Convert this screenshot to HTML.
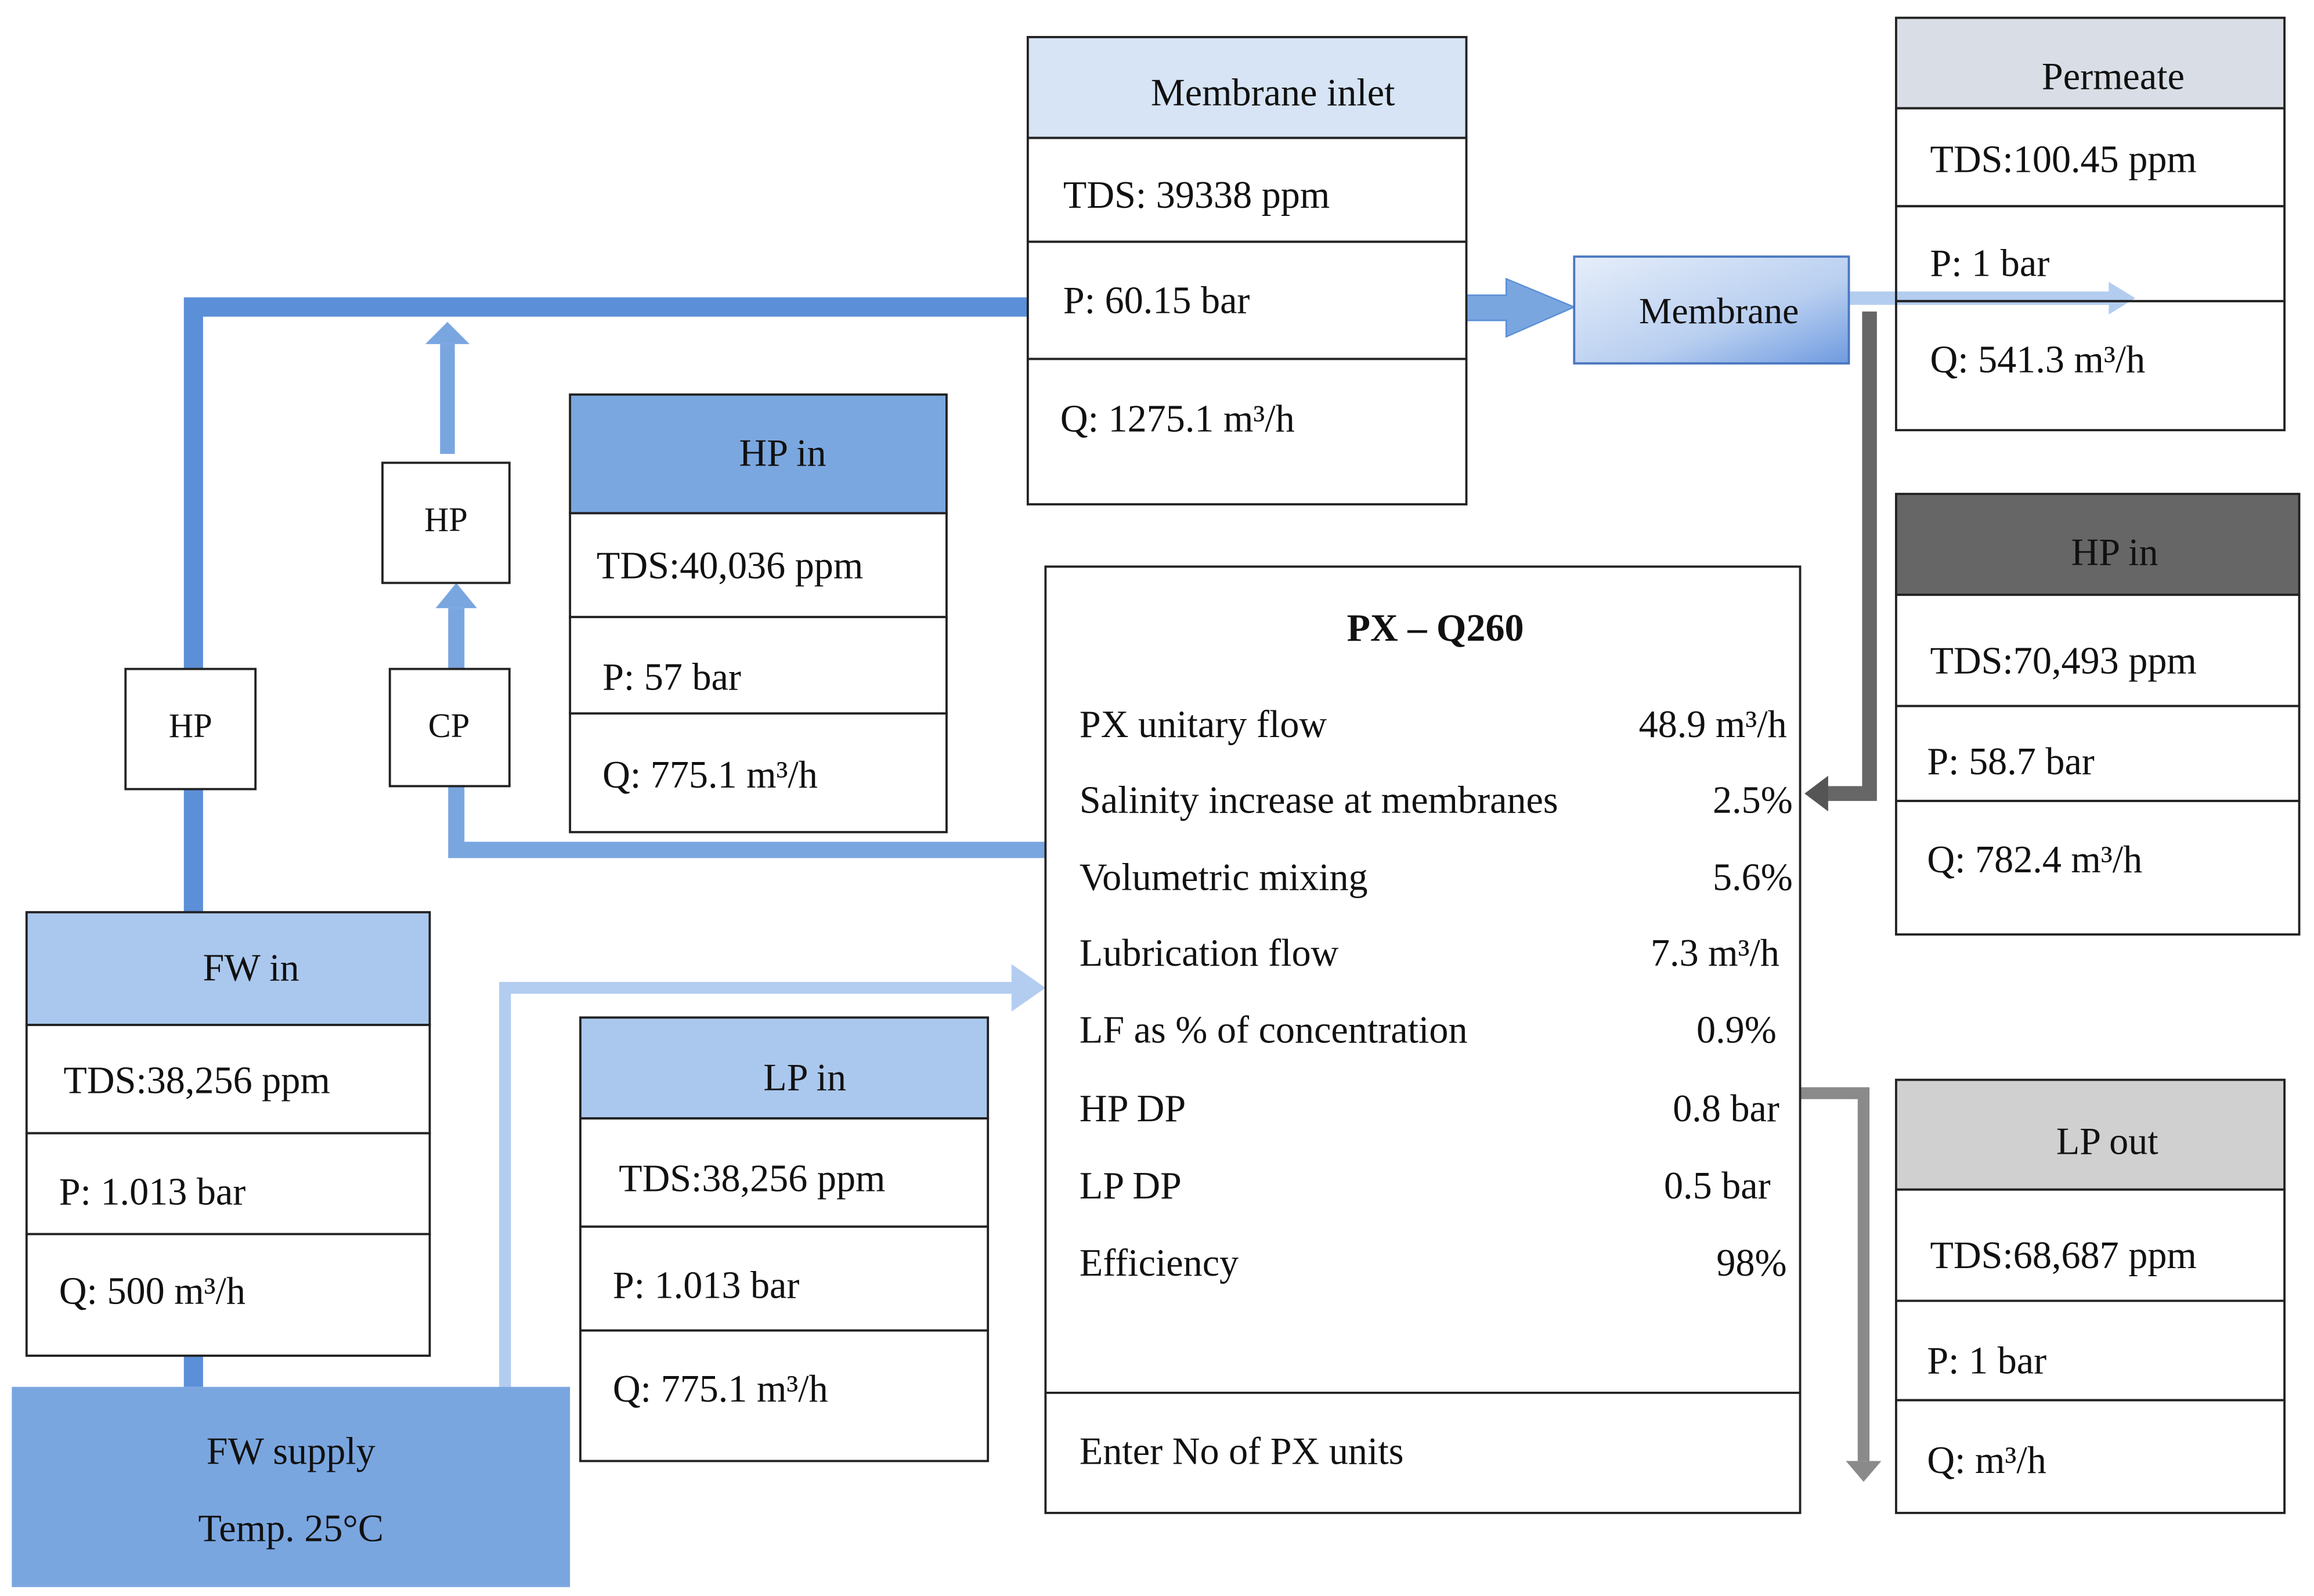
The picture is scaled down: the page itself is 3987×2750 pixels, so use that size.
<!DOCTYPE html>
<html><head><meta charset="utf-8"><style>
html,body{margin:0;padding:0;background:#fff;}
svg{display:block;}
text{font-family:"Liberation Serif",serif;fill:#111;}
</style></head><body>
<svg width="3987" height="2750" viewBox="0 0 1567 1076" preserveAspectRatio="none" xmlns="http://www.w3.org/2000/svg">
<defs>
<linearGradient id="mg" x1="0" y1="0" x2="1" y2="1">
<stop offset="0" stop-color="#e6eefa"/><stop offset="0.6" stop-color="#b9cff0"/><stop offset="1" stop-color="#6f9be0"/>
</linearGradient>
</defs>
<g fill="none">
<!-- main blue pipe -->
<path d="M131 935 V207 H700" stroke="#5b8fd8" stroke-width="13"/>
<!-- CP to HP pipe and PX to CP -->
<path d="M708 573 H309 V410" stroke="#7aa6e0" stroke-width="11"/>
<path d="M303 306 V232" stroke="#7aa6e0" stroke-width="10"/>
<!-- LP pipe -->
<path d="M342 935 V666 H690" stroke="#b3cdf0" stroke-width="8"/>
<!-- permeate -->
<path d="M1252 201 H1430" stroke="#b3cdf0" stroke-width="9"/>
<!-- grey concentrate -->
<path d="M1266 210 V535 H1236" stroke="#666" stroke-width="10"/>
<!-- LP out grey -->
<path d="M1219 737 H1262 V985" stroke="#8a8a8a" stroke-width="8"/>
</g>
<!-- arrowheads -->
<polygon points="288,232 303,217 318,232" fill="#7aa6e0"/>
<polygon points="295,410 309,393 323,410" fill="#7aa6e0"/>
<polygon points="685,650 708,666 685,682" fill="#b3cdf0"/>
<polygon points="1428,190 1446,201 1428,212" fill="#b3cdf0"/>
<polygon points="1238,523 1222,535 1238,547" fill="#555"/>
<polygon points="1250,985 1262,999 1274,985" fill="#8a8a8a"/>
<!-- block arrow to membrane -->
<polygon points="993,199 1020,199 1020,188 1066,207 1020,227 1020,216 993,216" fill="#7aa6e0" stroke="#5b8fd8" stroke-width="1"/>
<!-- Membrane -->
<rect x="1066" y="173" width="186" height="72" fill="url(#mg)" stroke="#4a78c0" stroke-width="1.5"/>
<text x="1164" y="218" font-size="25" text-anchor="middle">Membrane</text>

<g stroke="#222" stroke-width="1.5">
<!-- Membrane inlet -->
<rect x="696" y="25" width="297" height="68" fill="#d6e4f5"/>
<rect x="696" y="93" width="297" height="70" fill="#fff"/>
<rect x="696" y="163" width="297" height="79" fill="#fff"/>
<rect x="696" y="242" width="297" height="98" fill="#fff"/>
<!-- Permeate -->
<rect x="1284" y="12" width="263" height="61" fill="#d9dee6"/>
<rect x="1284" y="73" width="263" height="66" fill="#fff"/>
<rect x="1284" y="139" width="263" height="64" fill="none"/>
<rect x="1284" y="203" width="263" height="87" fill="none"/>
<!-- HP in right -->
<rect x="1284" y="333" width="273" height="68" fill="#666"/>
<rect x="1284" y="401" width="273" height="75" fill="#fff"/>
<rect x="1284" y="476" width="273" height="64" fill="#fff"/>
<rect x="1284" y="540" width="273" height="90" fill="#fff"/>
<!-- LP out -->
<rect x="1284" y="728" width="263" height="74" fill="#d0d0d0"/>
<rect x="1284" y="802" width="263" height="75" fill="#fff"/>
<rect x="1284" y="877" width="263" height="67" fill="#fff"/>
<rect x="1284" y="944" width="263" height="76" fill="#fff"/>
<!-- PX -->
<rect x="708" y="382" width="511" height="638" fill="#fff"/>
<line x1="708" y1="939" x2="1219" y2="939"/>
<!-- HP in middle -->
<rect x="386" y="266" width="255" height="80" fill="#7ba7e0"/>
<rect x="386" y="346" width="255" height="70" fill="#fff"/>
<rect x="386" y="416" width="255" height="65" fill="#fff"/>
<rect x="386" y="481" width="255" height="80" fill="#fff"/>
<!-- LP in -->
<rect x="393" y="686" width="276" height="68" fill="#aac8ee"/>
<rect x="393" y="754" width="276" height="73" fill="#fff"/>
<rect x="393" y="827" width="276" height="70" fill="#fff"/>
<rect x="393" y="897" width="276" height="88" fill="#fff"/>
<!-- FW in -->
<rect x="18" y="615" width="273" height="76" fill="#aac8ee"/>
<rect x="18" y="691" width="273" height="73" fill="#fff"/>
<rect x="18" y="764" width="273" height="68" fill="#fff"/>
<rect x="18" y="832" width="273" height="82" fill="#fff"/>
<!-- small boxes -->
<rect x="259" y="312" width="86" height="81" fill="#fff"/>
<rect x="85" y="451" width="88" height="81" fill="#fff"/>
<rect x="264" y="451" width="81" height="79" fill="#fff"/>
</g>
<rect x="8" y="935" width="378" height="135" fill="#7aa6e0"/>

<g font-size="26">
<text x="862" y="71" text-anchor="middle">Membrane inlet</text>
<text x="720" y="140">TDS: 39338 ppm</text>
<text x="720" y="211">P: 60.15 bar</text>
<text x="718" y="291">Q: 1275.1 m³/h</text>

<text x="1431" y="60" text-anchor="middle">Permeate</text>
<text x="1307" y="116">TDS:100.45 ppm</text>
<text x="1307" y="186">P: 1 bar</text>
<text x="1307" y="251">Q: 541.3 m³/h</text>

<text x="1432" y="381" text-anchor="middle">HP in</text>
<text x="1307" y="454">TDS:70,493 ppm</text>
<text x="1305" y="522">P: 58.7 bar</text>
<text x="1305" y="588">Q: 782.4 m³/h</text>

<text x="1427" y="778" text-anchor="middle">LP out</text>
<text x="1307" y="855">TDS:68,687 ppm</text>
<text x="1305" y="926">P: 1 bar</text>
<text x="1305" y="993">Q: m³/h</text>

<text x="530" y="314" text-anchor="middle">HP in</text>
<text x="404" y="390">TDS:40,036 ppm</text>
<text x="408" y="465">P: 57 bar</text>
<text x="408" y="531">Q: 775.1 m³/h</text>

<text x="545" y="735" text-anchor="middle">LP in</text>
<text x="419" y="803">TDS:38,256 ppm</text>
<text x="415" y="875">P: 1.013 bar</text>
<text x="415" y="945">Q: 775.1 m³/h</text>

<text x="170" y="661" text-anchor="middle">FW in</text>
<text x="43" y="737">TDS:38,256 ppm</text>
<text x="40" y="812">P: 1.013 bar</text>
<text x="40" y="879">Q: 500 m³/h</text>

<text x="197" y="987" text-anchor="middle">FW supply</text>
<text x="197" y="1039" text-anchor="middle">Temp. 25°C</text>

<text x="302" y="358" text-anchor="middle" font-size="23">HP</text>
<text x="129" y="497" text-anchor="middle" font-size="23">HP</text>
<text x="304" y="497" text-anchor="middle" font-size="23">CP</text>

<text x="972" y="432" text-anchor="middle" font-weight="bold">PX – Q260</text>
<text x="731" y="497">PX unitary flow</text><text x="1210" y="497" text-anchor="end">48.9 m³/h</text>
<text x="731" y="548">Salinity increase at membranes</text><text x="1214" y="548" text-anchor="end">2.5%</text>
<text x="731" y="600">Volumetric mixing</text><text x="1214" y="600" text-anchor="end">5.6%</text>
<text x="731" y="651">Lubrication flow</text><text x="1205" y="651" text-anchor="end">7.3 m³/h</text>
<text x="731" y="703">LF as % of concentration</text><text x="1203" y="703" text-anchor="end">0.9%</text>
<text x="731" y="756">HP DP</text><text x="1205" y="756" text-anchor="end">0.8 bar</text>
<text x="731" y="808">LP DP</text><text x="1199" y="808" text-anchor="end">0.5 bar</text>
<text x="731" y="860">Efficiency</text><text x="1210" y="860" text-anchor="end">98%</text>
<text x="731" y="987">Enter No of PX units</text>
</g>
</svg>
</body></html>
